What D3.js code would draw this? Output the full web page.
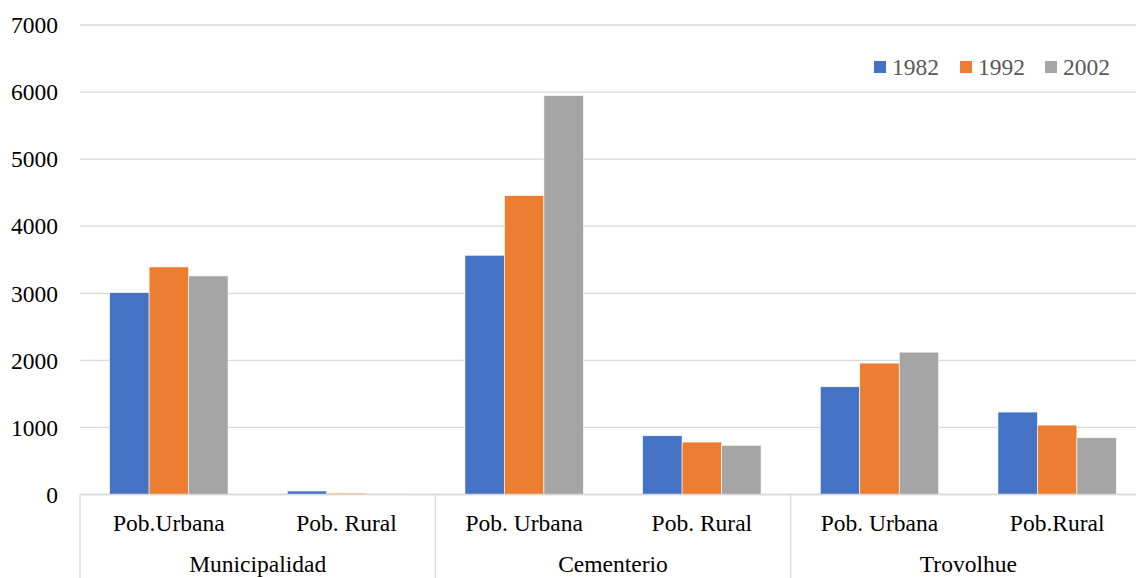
<!DOCTYPE html>
<html>
<head>
<meta charset="utf-8">
<script src="https://cdn.jsdelivr.net/npm/d3@7/dist/d3.min.js"></script>
<style>
	body { margin: 0; background: #fff; }
	text { font-family: "Liberation Serif", "Times New Roman", serif; }
</style>
</head>
<body>
<script>
var groups = ['Municipalidad', 'Cementerio', 'Trovolhue'],
	categories = ['Pob.Urbana', 'Pob. Rural', 'Pob. Urbana', 'Pob. Rural', 'Pob. Urbana', 'Pob.Rural'],
	years = ['1982', '1992', '2002'],
	values1982 = [3010, 52, 3567, 876, 1606, 1229],
	values1992 = [3393, 20, 4456, 782, 1959, 1035],
	values2002 = [3259, 8, 5947, 733, 2122, 846],
	yTicks = [0, 1000, 2000, 3000, 4000, 5000, 6000, 7000];

var series = [values1982, values1992, values2002],
	colors = ['#4472C4', '#ED7D31', '#A5A5A5'],
	width = 1136,
	height = 578,
	plotLeft = 80,
	plotRight = 1146,
	plotTop = 25,
	plotBottom = 494.5,
	fontSize = 23.5;

var svg = d3.select('body')
	.append('svg')
	.attr('width', width)
	.attr('height', height);

var y = d3.scaleLinear()
	.domain([0, 7000])
	.range([plotBottom, plotTop]);

var x0 = d3.scaleBand()
	.domain(d3.range(categories.length))
	.range([plotLeft, plotRight])
	.padding(0);

var x1 = d3.scaleBand()
	.domain(d3.range(years.length))
	.range([x0.bandwidth() / 6, x0.bandwidth() * 5 / 6])
	.padding(0);

// gridlines
svg.append('g')
	.selectAll('line')
	.data(yTicks)
	.enter()
	.append('line')
	.attr('x1', plotLeft)
	.attr('x2', width)
	.attr('y1', function(d) { return y(d); })
	.attr('y2', function(d) { return y(d); })
	.attr('stroke', '#d9d9d9')
	.attr('stroke-width', 1.3);

// y tick labels
svg.append('g')
	.selectAll('text')
	.data(yTicks)
	.enter()
	.append('text')
	.text(function(d) { return d; })
	.attr('x', 58)
	.attr('y', function(d) { return y(d); })
	.attr('dy', '0.35em')
	.attr('text-anchor', 'end')
	.attr('font-size', fontSize)
	.attr('fill', '#000');

// bars
var cat = svg.append('g')
	.selectAll('g')
	.data(categories)
	.enter()
	.append('g')
	.attr('transform', function(d, i) { return 'translate(' + x0(i) + ',0)'; });

cat.selectAll('rect')
	.data(function(d, i) { return series.map(function(s, k) { return {k: k, v: s[i]}; }); })
	.enter()
	.append('rect')
	.attr('x', function(d) { return x1(d.k); })
	.attr('width', x1.bandwidth())
	.attr('y', function(d) { return y(d.v); })
	.attr('height', function(d) { return plotBottom - y(d.v); })
	.attr('fill', function(d) { return colors[d.k]; })
	.attr('stroke', '#fff')
	.attr('stroke-width', 0.6);

// axis line
svg.append('line')
	.attr('x1', plotLeft)
	.attr('x2', width)
	.attr('y1', plotBottom)
	.attr('y2', plotBottom)
	.attr('stroke', '#d9d9d9')
	.attr('stroke-width', 1.3);

// category labels
svg.append('g')
	.selectAll('text')
	.data(categories)
	.enter()
	.append('text')
	.text(function(d) { return d; })
	.attr('x', function(d, i) { return x0(i) + x0.bandwidth() / 2; })
	.attr('y', 531)
	.attr('text-anchor', 'middle')
	.attr('font-size', fontSize)
	.attr('fill', '#000');

// group separators and labels
var groupEdges = d3.range(groups.length + 1).map(function(g) {
	return g < groups.length ? x0(g * 2) : plotRight;
});

svg.append('g')
	.selectAll('line')
	.data(groupEdges)
	.enter()
	.append('line')
	.attr('x1', function(d) { return d; })
	.attr('x2', function(d) { return d; })
	.attr('y1', plotBottom)
	.attr('y2', height)
	.attr('stroke', '#d9d9d9')
	.attr('stroke-width', 1.3);

svg.append('g')
	.selectAll('text')
	.data(groups)
	.enter()
	.append('text')
	.text(function(d) { return d; })
	.attr('x', function(d, g) { return (groupEdges[g] + groupEdges[g + 1]) / 2; })
	.attr('y', 572)
	.attr('text-anchor', 'middle')
	.attr('font-size', fontSize)
	.attr('fill', '#000');

// legend
var legendX = [874, 960, 1045];
var legend = svg.append('g')
	.selectAll('g')
	.data(years)
	.enter()
	.append('g')
	.attr('transform', function(d, i) { return 'translate(' + legendX[i] + ',61)'; });

legend.append('rect')
	.attr('width', 12)
	.attr('height', 12)
	.attr('fill', function(d, i) { return colors[i]; });

legend.append('text')
	.text(function(d) { return d; })
	.attr('x', 18)
	.attr('y', 6)
	.attr('dy', '0.35em')
	.attr('font-size', fontSize)
	.attr('fill', '#595959');
</script>
</body>
</html>
